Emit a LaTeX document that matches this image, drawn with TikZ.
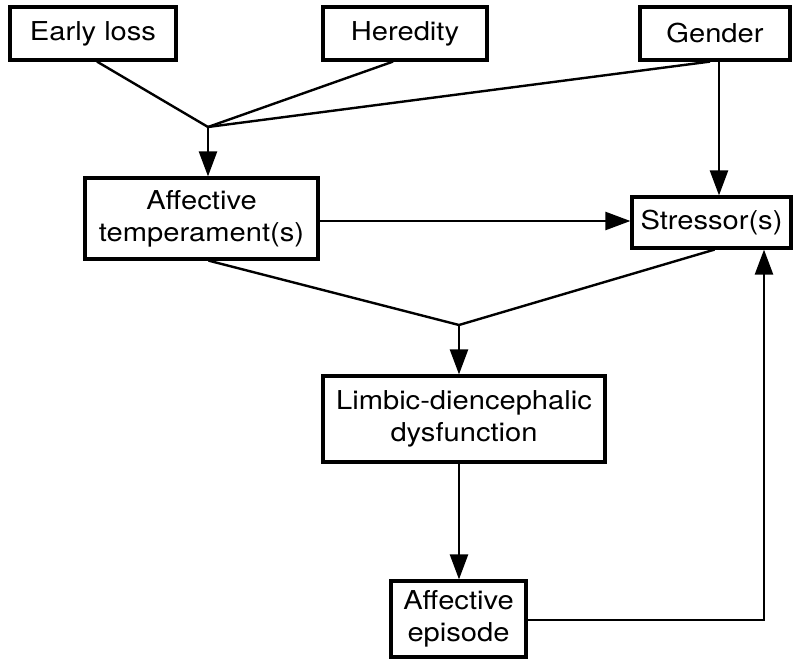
\documentclass[tikz,border=0pt]{standalone}
\usepackage{fontspec}
\setmainfont{TeX Gyre Heros}[FakeStretch=1.12]
\usetikzlibrary{arrows.meta}
\usetikzlibrary{positioning}

\begin{document}
\begin{tikzpicture}[x=1pt,y=-1pt]
    \useasboundingbox (0,0) rectangle (795,663);
    \begin{scope}[every node/.style={draw,line width=3.2pt,align=center,inner sep=0pt,
        font=\fontsize{26}{32}\selectfont}]
      \node[minimum width=166,minimum height=53] (loss) at (93,33.5) {Early loss};
      \node[minimum width=164,minimum height=53] (hered) at (405,33.5) {Heredity};
      \node[minimum width=150,minimum height=53] (gender) at (715,33.5) {Gender};
      \node[minimum width=233,minimum height=81] (temp) at (201.5,218.5) {Affective\\temperament(s)};
      \node[minimum width=159,minimum height=51] (stress) at (711.5,222.5) {Stressor(s)};
      \node[minimum width=282,minimum height=86] (limbic) at (464,419) {Limbic-diencephalic\\dysfunction};
      \node[minimum width=135,minimum height=76] (episode) at (458.5,619) {Affective\\episode};
    \end{scope}
    \coordinate (j1) at (208,127);
    \coordinate (j2) at (459,325);
    \coordinate (back) at (764,620);
    \begin{scope}[every edge/.style={draw=black,line width=2.4pt}]
      \path ([xshift=4pt]loss.south) edge (j1);
      \path ([xshift=-12pt]hered.south) edge (j1);
      \path ([xshift=-5pt]gender.south) edge (j1);
      \path ([xshift=7pt]temp.south) edge (j2);
      \path ([xshift=3pt]stress.south) edge (j2);
    \end{scope}
    \begin{scope}[every edge/.style={draw=black,line width=2.4pt,-{Triangle[length=25pt,width=18pt]}}]
      \path (j1) edge (j1 |- temp.north);
      \path ([xshift=4pt]gender.south) edge ([xshift=4pt]gender.south |- stress.north);
      \path (temp.east |- 0,221) edge (stress.west |- 0,221);
      \path (j2) edge (j2 |- limbic.north);
      \path (j2 |- limbic.south) edge (j2 |- episode.north);
      \path (episode.east |- back) edge[to path={-- (back) -- (\tikztotarget)}] (back |- stress.south);
    \end{scope}
\end{tikzpicture}
\end{document}
